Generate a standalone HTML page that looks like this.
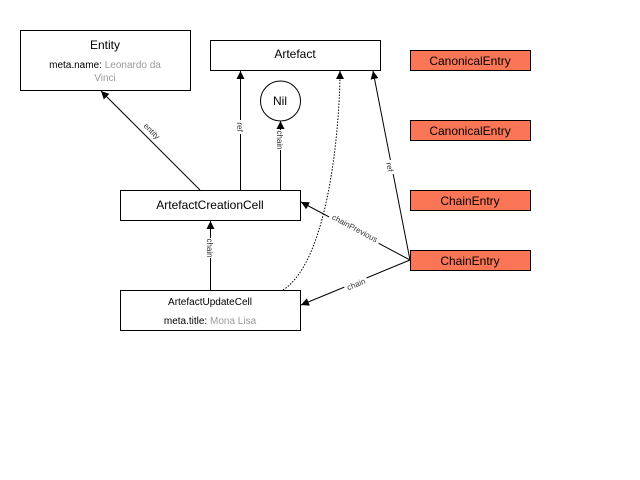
<!DOCTYPE html>
<html><head><style>body{margin:0;background:#fff}svg{display:block}text{font-family:"Liberation Sans",sans-serif}</style></head><body>
<svg width="640" height="480" viewBox="0 0 640 480" xmlns="http://www.w3.org/2000/svg">
<defs><marker id="a" viewBox="0 0 10 10" refX="10" refY="5" markerWidth="8" markerHeight="8" orient="auto"><path d="M0,0L10,5L0,10z" fill="#000"/></marker></defs>
<g fill="#fff" stroke="#000" stroke-width="1">
<rect x="20.5" y="30.5" width="170" height="60"/>
<rect x="210.5" y="40.5" width="170" height="30"/>
<circle cx="280.5" cy="101" r="20"/>
<rect x="120.5" y="190.5" width="180" height="30"/>
<rect x="120.5" y="290.5" width="180" height="40"/>
</g>
<g fill="#fa7656" stroke="#000">
<rect x="410.5" y="50.5" width="120" height="20"/>
<rect x="410.5" y="120.5" width="120" height="20"/>
<rect x="410.5" y="190.5" width="120" height="20"/>
<rect x="410.5" y="250.5" width="120" height="20"/>
</g>
<g stroke="#000" fill="none" marker-end="url(#a)">
<line x1="200" y1="190" x2="101" y2="91"/>
<line x1="240.5" y1="190" x2="240.5" y2="71"/>
<line x1="280.5" y1="190" x2="280.5" y2="121"/>
<line x1="210.5" y1="290" x2="210.5" y2="221"/>
<line x1="410" y1="260" x2="373" y2="71"/>
<line x1="410" y1="260" x2="301" y2="202"/>
<line x1="410" y1="260" x2="301" y2="305"/>
<path d="M283,290 C330,260 340,120 340,71" stroke-dasharray="1.5,1.5"/>
</g>
<g font-size="8" fill="#333" text-anchor="middle">
<rect x="138" y="125" width="28" height="12" fill="#fff" transform="rotate(45 152 131)"/>
<text x="152" y="134" transform="rotate(45 152 131)">entity</text>
<rect x="234" y="120" width="12" height="14" fill="#fff"/>
<text x="240" y="130" transform="rotate(90 240 127)">ref</text>
<rect x="274" y="130" width="12" height="20" fill="#fff"/>
<text x="280" y="143" transform="rotate(90 280 140)">chain</text>
<rect x="204" y="238" width="12" height="20" fill="#fff"/>
<text x="210" y="251" transform="rotate(90 210 248)">chain</text>
<rect x="384" y="160" width="12" height="14" fill="#fff"/>
<text x="390" y="170" transform="rotate(79 390 167)">ref</text>
<rect x="327" y="222" width="56" height="12" fill="#fff" transform="rotate(28 355 228)"/>
<text x="355" y="231" transform="rotate(28 355 228)">chainPrevious</text>
<rect x="344" y="278" width="24" height="12" fill="#fff" transform="rotate(-22 356 284)"/>
<text x="356" y="287" transform="rotate(-22 356 284)">chain</text>
</g>
<g font-size="12" fill="#000" text-anchor="middle">
<text x="105" y="49">Entity</text>
<text x="105" y="68" font-size="10">meta.name: <tspan fill="#999">Leonardo da</tspan></text>
<text x="105" y="81" font-size="10" fill="#999">Vinci</text>
<text x="295" y="58">Artefact</text>
<text x="280" y="105">Nil</text>
<text x="210" y="209">ArtefactCreationCell</text>
<text x="210" y="305" font-size="10">ArtefactUpdateCell</text>
<text x="210" y="324" font-size="10">meta.title: <tspan fill="#999">Mona Lisa</tspan></text>
<text x="470" y="65">CanonicalEntry</text>
<text x="470" y="135">CanonicalEntry</text>
<text x="470" y="205">ChainEntry</text>
<text x="470" y="265">ChainEntry</text>
</g>
</svg>
</body></html>
